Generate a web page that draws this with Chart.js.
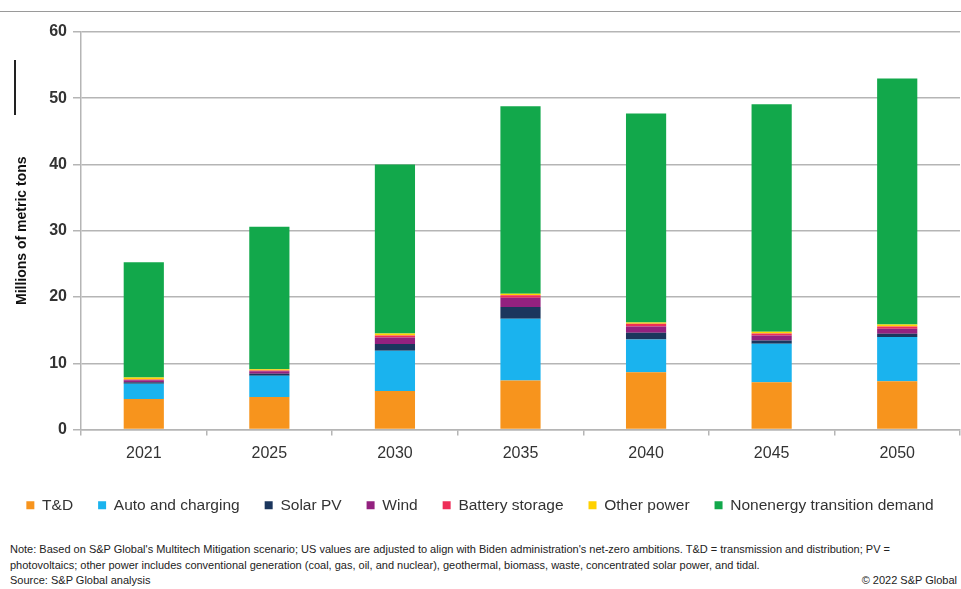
<!DOCTYPE html>
<html>
<head>
<meta charset="utf-8">
<script src="https://cdn.jsdelivr.net/npm/chart.js@4"></script>
<style>
  body { margin: 0; background: #fff; font-family: "Liberation Sans", Arial, sans-serif; }
  #wrap { position: relative; width: 961px; height: 589px; overflow: hidden; }
  #myChart { position: absolute; left: 0; top: 0; }
  .topline { position: absolute; left: 0; top: 11px; width: 961px; height: 1px; background: #9a9a9a; }
  .mark { position: absolute; left: 14px; top: 60px; width: 2px; height: 55px; background: #222; }
  .note { position: absolute; left: 10px; top: 542px; width: 945px; font-size: 11px; line-height: 15.5px; color: #222; }
  .copy { position: absolute; right: 4px; top: 573px; font-size: 11px; line-height: 15.5px; color: #222; }
</style>
</head>
<body>
<div id="wrap">
  <div class="topline"></div>
  <div class="mark"></div>
  <canvas id="myChart" width="961" height="523"></canvas>
  <div class="note">Note: Based on S&amp;P Global's Multitech Mitigation scenario; US values are adjusted to align with Biden administration's net-zero ambitions. T&amp;D = transmission and distribution; PV =<br>photovoltaics; other power includes conventional generation (coal, gas, oil, and nuclear), geothermal, biomass, waste, concentrated solar power, and tidal.<br>Source: S&amp;P Global analysis</div>
  <div class="copy">© 2022 S&amp;P Global</div>
</div>
<script>
// years on the x axis
const labels = ['2021', '2025', '2030', '2035', '2040', '2045', '2050'];

// millions of metric tons
const tnd       = [4.6, 4.9, 5.8, 7.4, 8.65, 7.15, 7.3];
const auto      = [2.3, 3.2, 6.1, 9.3, 4.95, 5.8, 6.65];
const solarPV   = [0.25, 0.3, 1.0, 1.8, 1.0, 0.5, 0.5];
const wind      = [0.3, 0.4, 1.0, 1.4, 0.95, 0.75, 0.75];
const battery   = [0.1, 0.1, 0.3, 0.35, 0.4, 0.3, 0.35];
const otherPow  = [0.3, 0.2, 0.3, 0.25, 0.2, 0.25, 0.3];
const nonenergy = [17.4, 21.5, 25.5, 28.3, 31.55, 34.35, 37.15];

const yTicks = [0, 10, 20, 30, 40, 50, 60];

const gridColor = '#b5b5b5';
const textColor = '#333';

function ds(label, data, color) {
    return {
        label: label,
        data: data,
        backgroundColor: color,
        borderWidth: 0,
        barPercentage: 0.8,
        categoryPercentage: 0.4
    };
}

const data = {
    labels: labels,
    datasets: [
        ds('T&D', tnd, '#F7941D'),
        ds('Auto and charging', auto, '#1AB3EE'),
        ds('Solar PV', solarPV, '#1B365D'),
        ds('Wind', wind, '#93217F'),
        ds('Battery storage', battery, '#EE2E58'),
        ds('Other power', otherPow, '#FFD100'),
        ds('Nonenergy transition demand', nonenergy, '#12A84B')
    ]
};

const config = {
    type: 'bar',
    data: data,
    options: {
        responsive: false,
        animation: false,
        layout: { padding: { top: 32, right: 1, left: 0, bottom: 0 } },
        plugins: {
            tooltip: { enabled: false },
            legend: {
                position: 'bottom',
                labels: {
                    boxWidth: 8,
                    boxHeight: 8,
                    padding: 25,
                    color: textColor,
                    font: { family: 'Liberation Sans', size: 15.5 }
                }
            }
        },
        scales: {
            x: {
                stacked: true,
                afterFit: s => { s.height = 43; },
                grid: {
                    display: true,
                    offset: true,
                    drawOnChartArea: false,
                    tickLength: 6,
                    color: gridColor,
                    lineWidth: 1.5
                },
                border: { color: gridColor, width: 1.5 },
                ticks: {
                    padding: 8,
                    color: textColor,
                    font: { family: 'Liberation Sans', size: 16 }
                }
            },
            y: {
                stacked: true,
                min: 0,
                max: 60,
                afterFit: s => { s.width = 81; },
                afterBuildTicks: s => { s.ticks = yTicks.map(v => ({ value: v })); },
                grid: {
                    color: gridColor,
                    lineWidth: 1.5,
                    tickLength: 8
                },
                border: { color: gridColor, width: 1.5 },
                ticks: {
                    padding: 6,
                    color: textColor,
                    font: { family: 'Liberation Sans', size: 16, weight: 'bold' }
                },
                title: {
                    display: true,
                    text: 'Millions of metric tons',
                    color: '#111',
                    padding: { top: 14, bottom: 0 },
                    font: { family: 'Liberation Sans', size: 14, weight: 'bold' }
                }
            }
        }
    }
};

const myChart = new Chart(document.getElementById('myChart'), config);
</script>
</body>
</html>
